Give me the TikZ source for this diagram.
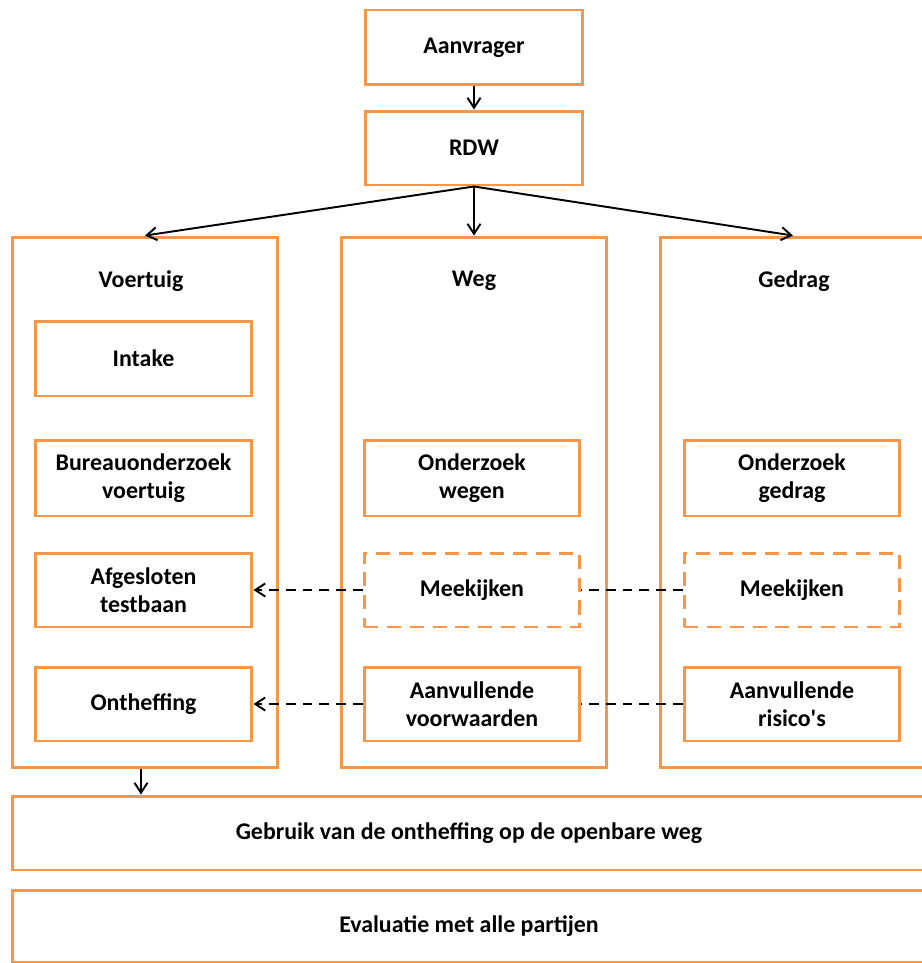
\documentclass[tikz,border=0pt]{standalone}
\usepackage{fontspec}
\setmainfont{Carlito}
\usetikzlibrary{arrows.meta}

\definecolor{kader}{RGB}{247,150,70}

\begin{document}
\begin{tikzpicture}[x=0.02cm, y=-0.02cm,
    vak/.style={draw=kader, line width=1.7pt, align=center, font=\fontsize{13.6}{16}\selectfont\bfseries},
    stippelvak/.style={vak, dash pattern=on 8pt off 5pt},
    kop/.style={font=\fontsize{13.6}{16}\selectfont\bfseries},
    pijl/.style={-{Straight Barb[length=2mm, width=2.6mm]}, line width=1.1pt},
    stippel/.style={line width=1.1pt, dash pattern=on 5.5pt off 4pt}]
    \useasboundingbox (0,0) rectangle (922,963);
    \clip (0,0) rectangle (922,963);

    \node[vak, minimum width=4.36cm, minimum height=1.5cm] (aanvrager) at (474,47.5) {Aanvrager};
    \node[vak, minimum width=4.36cm, minimum height=1.48cm] (rdw) at (474,148) {RDW};

    \node[vak, minimum width=5.32cm, minimum height=10.62cm] (voertuig) at (145,502.5) {};
    \node[vak, minimum width=5.32cm, minimum height=10.62cm] (weg) at (474,502.5) {};
    \node[vak, minimum width=5.32cm, minimum height=10.62cm] (gedrag) at (793,502.5) {};
    \node[kop] (voertuigkop) at (141,281) {Voertuig};
    \node[kop] (wegkop) at (474,281) {Weg};
    \node[kop] (gedragkop) at (794,281) {Gedrag};

    \node[vak, minimum width=4.34cm, minimum height=1.5cm] (intake) at (143.5,358.5) {Intake};
    \node[vak, minimum width=4.34cm, minimum height=1.52cm] (bureau) at (143.5,478) {Bureauonderzoek\\voertuig};
    \node[vak, minimum width=4.34cm, minimum height=1.48cm] (testbaan) at (143.5,590) {Afgesloten\\testbaan};
    \node[vak, minimum width=4.34cm, minimum height=1.48cm] (ontheffing) at (143.5,704) {Ontheffing};

    \node[vak, minimum width=4.32cm, minimum height=1.52cm] (wegen) at (472,478) {Onderzoek\\wegen};
    \node[stippelvak, minimum width=4.32cm, minimum height=1.48cm] (meekijkenweg) at (472,590) {Meekijken};
    \node[vak, minimum width=4.32cm, minimum height=1.48cm] (voorwaarden) at (472,704) {Aanvullende\\voorwaarden};

    \node[vak, minimum width=4.32cm, minimum height=1.52cm] (gedragonderzoek) at (792,478) {Onderzoek\\gedrag};
    \node[stippelvak, minimum width=4.32cm, minimum height=1.48cm] (meekijkengedrag) at (792,590) {Meekijken};
    \node[vak, minimum width=4.32cm, minimum height=1.48cm] (risicos) at (792,704) {Aanvullende\\risico\textquotesingle s};

    \node[vak, minimum width=18.28cm, minimum height=1.48cm] (gebruik) at (469,833) {Gebruik van de ontheffing op de openbare weg};
    \node[vak, minimum width=18.28cm, minimum height=1.44cm] (evaluatie) at (469,926) {Evaluatie met alle partijen};

    \draw[pijl] (aanvrager) -- (rdw);
    \draw[pijl] (rdw.south) -- (voertuig.north);
    \draw[pijl] (rdw.south) -- (weg.north);
    \draw[pijl] (rdw.south) -- (gedrag.north);
    \draw[pijl] (voertuigkop |- voertuig.south) -- (voertuigkop |- gebruik.north);

    \draw[stippel, -{Straight Barb[length=2mm, width=2.6mm]}] (meekijkenweg) -- (testbaan);
    \draw[stippel] (meekijkengedrag) -- (meekijkenweg);
    \draw[stippel, -{Straight Barb[length=2mm, width=2.6mm]}] (voorwaarden) -- (ontheffing);
    \draw[stippel] (risicos) -- (voorwaarden);
\end{tikzpicture}
\end{document}
